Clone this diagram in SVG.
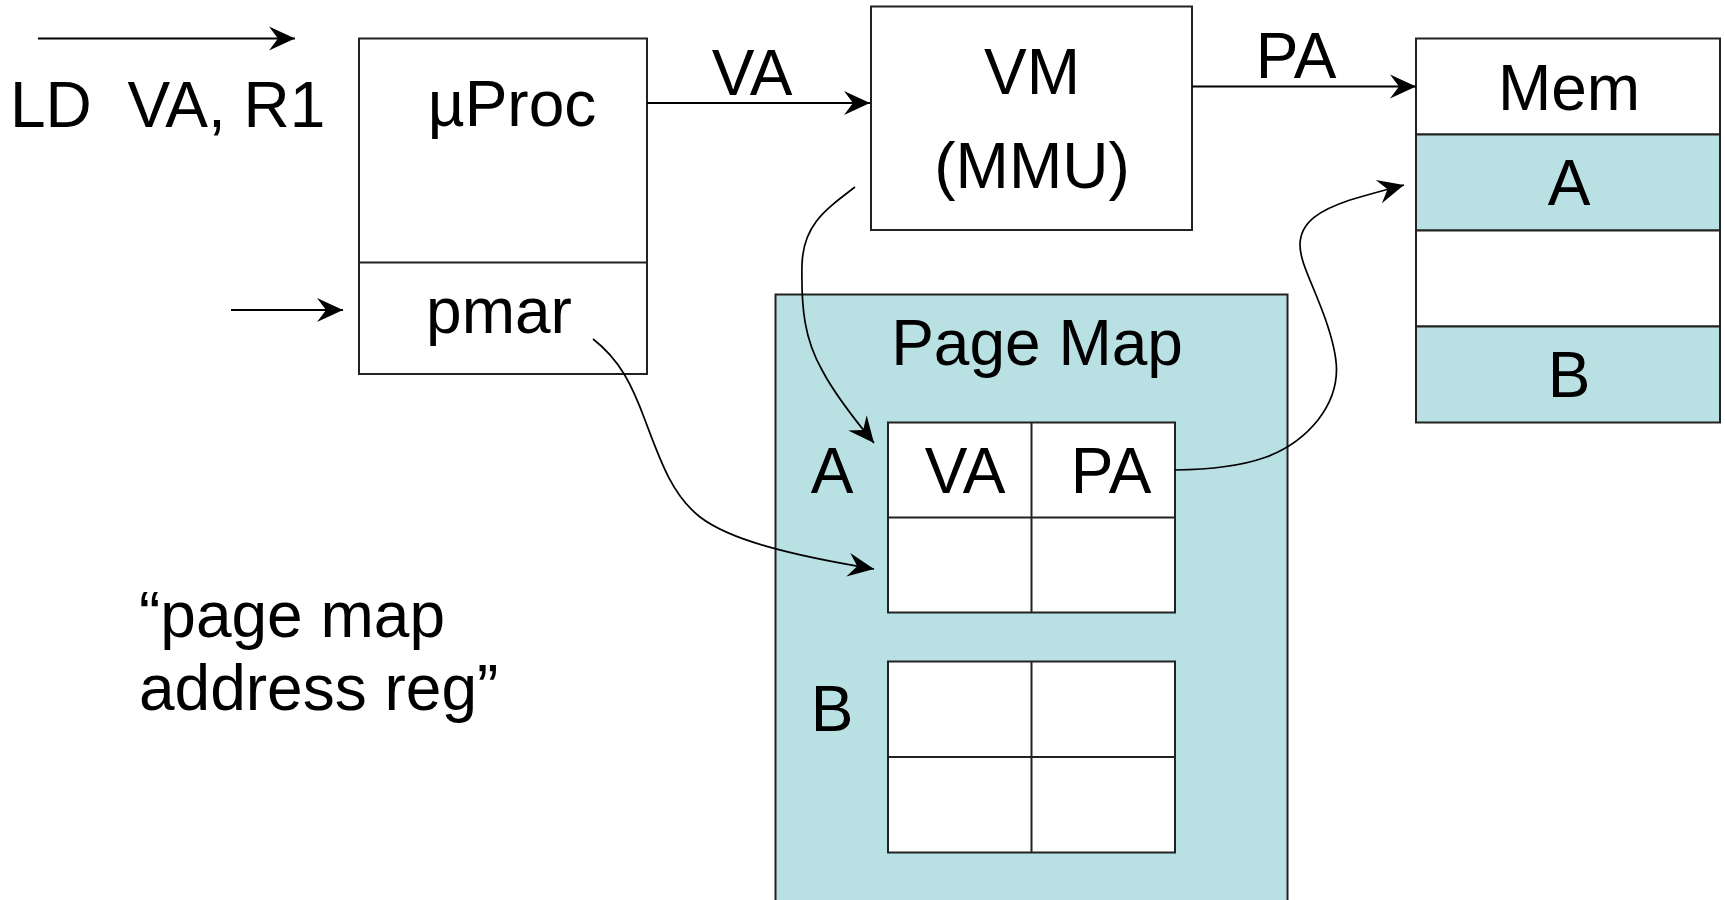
<svg xmlns="http://www.w3.org/2000/svg" width="1725" height="900" viewBox="0 0 1725 900">
  <defs>
    <style>
      .box { fill: #ffffff; stroke: #222222; stroke-width: 2; }
      .teal { fill: #B9E0E3; stroke: #222222; stroke-width: 2; }
      .ln { fill: none; stroke: #222222; stroke-width: 2; }
      .conn { fill: none; stroke: #000000; stroke-width: 2; marker-end: url(#arr); }
      .curve { fill: none; stroke: #000000; stroke-width: 1.7; marker-end: url(#arr); }
      text { font-family: "Liberation Sans", Arial, sans-serif; font-size: 64px; fill: #000000; }
      .mid { text-anchor: middle; }
    </style>
    <marker id="arr" markerUnits="userSpaceOnUse" viewBox="-28 -14 30 28" markerWidth="30" markerHeight="28" refX="0" refY="0" orient="auto">
      <path d="M0,0 L-26,-12 L-17,0 L-26,12 Z" fill="#000000"/>
    </marker>
  </defs>
  <rect width="1725" height="900" fill="#ffffff"/>

  <g id="instr">
    <text x="10" y="127" xml:space="preserve">LD  VA, R1</text>
  </g>

  <g id="uproc">
    <rect class="box" x="359" y="38.5" width="288" height="335.5"/>
    <line class="ln" x1="359" y1="262.5" x2="647" y2="262.5"/>
    <text class="mid" x="512" y="126">µProc</text>
    <text class="mid" x="499" y="333">pmar</text>
  </g>

  <g id="vm">
    <rect class="box" x="871" y="6.5" width="321" height="223.5"/>
    <text class="mid" x="1032" y="94">VM</text>
    <text class="mid" x="1032" y="188">(MMU)</text>
  </g>

  <g id="mem">
    <rect class="box" x="1416" y="38.5" width="304" height="96"/>
    <rect class="teal" x="1416" y="134.5" width="304" height="96"/>
    <rect class="box" x="1416" y="230.5" width="304" height="96"/>
    <rect class="teal" x="1416" y="326.5" width="304" height="96"/>
    <text class="mid" x="1569" y="110">Mem</text>
    <text class="mid" x="1569" y="205">A</text>
    <text class="mid" x="1569" y="397">B</text>
  </g>

  <g id="pagemap">
    <rect class="teal" x="775.5" y="294.5" width="512" height="620"/>
    <text class="mid" x="1037" y="365">Page Map</text>
    <text class="mid" x="832" y="493">A</text>
    <text class="mid" x="832" y="731">B</text>
  </g>

  <g id="tableA">
    <rect class="box" x="888" y="422.5" width="287" height="190"/>
    <line class="ln" x1="888" y1="517.5" x2="1175" y2="517.5"/>
    <line class="ln" x1="1031.5" y1="422.5" x2="1031.5" y2="612.5"/>
    <text class="mid" x="965" y="493">VA</text>
    <text class="mid" x="1111" y="493">PA</text>
  </g>

  <g id="tableB">
    <rect class="box" x="888" y="661.5" width="287" height="191"/>
    <line class="ln" x1="888" y1="757" x2="1175" y2="757"/>
    <line class="ln" x1="1031.5" y1="661.5" x2="1031.5" y2="852.5"/>
  </g>

  <g id="note">
    <text x="139" y="637">“page map</text>
    <text x="139" y="710">address reg”</text>
  </g>

  <g id="labels">
    <text class="mid" x="752" y="95">VA</text>
    <text class="mid" x="1296" y="78">PA</text>
  </g>

  <g id="connectors">
    <line class="conn" x1="38" y1="38.5" x2="295" y2="38.5"/>
    <line class="conn" x1="231" y1="310" x2="343" y2="310"/>
    <line class="conn" x1="647" y1="103" x2="870" y2="103"/>
    <line class="conn" x1="1192" y1="86.5" x2="1416" y2="86.5"/>
    <path class="curve" d="M855,187 C825,210 803,225 802,265 C801,310 805,340 822,370 C835,395 855,420 874,443"/>
    <path class="curve" d="M593,339 C620,360 632,385 645,420 C660,460 672,495 700,517 C730,540 790,555 874,569"/>
    <path class="curve" d="M1175,470 C1250,469 1290,455 1318,420 C1345,385 1338,355 1325,318 C1312,282 1300,262 1300,245 C1300,222 1320,210 1350,200 C1370,194 1385,190 1404,185"/>
  </g>
</svg>
